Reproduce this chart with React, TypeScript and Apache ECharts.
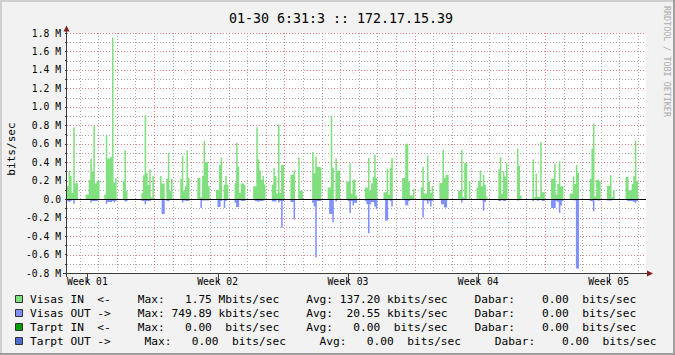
import React, { useEffect, useRef } from "react";
import * as echarts from "echarts";

// ---------- text ----------
const titleText = "01-30 6:31:3 :: 172.17.15.39";
const unitLabel = "bits/sec";
const watermark = "RRDTOOL / TOBI OETIKER";
const weekLabels = ["Week 01", "Week 02", "Week 03", "Week 04", "Week 05"];

// ---------- axes ----------
const spanDays = 31.1; // time span shown (days)
const samplesPerDay = 12; // 2-hour consolidated samples
const dayGridOffset = 0.675; // first day grid line (days from left edge)
const weekGridOffset = 4.685; // first week grid line
const weekLabelOffset = 1.09; // first week label position
const yMin = -0.8;
const yMax = 1.8;
const yStep = 0.2;

// ---------- data (Mbit/s), bursts of 2-hour samples ----------
const burstStart = [
  0, 12, 24, 36, 48, 60, 73, 84, 96, 108, 120, 132, 144, 158, 168, 180,
  192, 204, 216, 228, 240, 252, 264, 278, 290, 300, 312, 324, 337, 348, 360,
];
const inBursts = [
  [0.14, 0.31, 0.25, 0.07, 0.78, 0.17, 0.18],
  [0.05, 0.05, 0.21, 0.44, 0.3, 0.8, 0.17, 0.2, 0.2],
  [0.05, 0.7, 0.44, 0.44, 0.46, 1.75, 0.18, 0.23],
  [0.2, 0.53, 0.09],
  [0.07, 0.26, 0.91, 0.28, 0.15, 0.32, 0.02, 0.25],
  [0.25, 0.17, 0.17, 0, 0.22, 0.5, 0.085, 0.22],
  [0.22, 0.47, 0.085, 0.14, 0.53, 0.23],
  [0.23, 0.23, 0.02, 0.25, 0.63, 0.4, 0.4, 0.14],
  [0.1, 0.1, 0.37, 0.45, 0, 0.155, 0.25, 0.155],
  [0.175, 0.61, 0.355, 0.07, 0.17, 0.17, 0.15],
  [0.14, 0.14, 0.78, 0.43, 0.31, 0.21, 0.25, 0.16],
  [0.155, 0.34, 0.25, 0.06, 0.81, 0.07, 0.37, 0.37],
  [0.265, 0.265, 0.31, 0, 0, 0.45, 0.09, 0.09],
  [0.51, 0.28, 0.46, 0.35, 0.345, 0.345],
  [0.125, 0.125, 0.9, 0.34, 0, 0.44, 0.31, 0.31],
  [0.19, 0.19, 0.39, 0.06, 0.21, 0.21, 0.04],
  [0.125, 0.125, 0.445, 0.09, 0.17, 0.24, 0.48, 0.23],
  [0.075, 0.075, 0.33, 0.05, 0.34, 0.445],
  [0.23, 0.23, 0.6, 0.6, 0.19, 0.04, 0.04, 0.11],
  [0.13, 0.35, 0.06, 0.06, 0.47, 0.19, 0.07, 0.14],
  [0.175, 0.175, 0.535, 0.23, 0.265, 0.265],
  [0.09, 0.09, 0.535, 0.02, 0.39, 0.4, 0, 0.19],
  [0.125, 0.2, 0.31, 0.14, 0.265, 0.157, 0.03],
  [0.32, 0.455, 0.06, 0.3, 0.245, 0.39],
  [0.545, 0.36, 0.04],
  [0.43, 0.02, 0.275, 0.025, 0.025, 0.62, 0.075, 0.075],
  [0.22, 0.22, 0.385, 0.05, 0.165, 0.41, 0.14, 0.14],
  [0.06, 0.06, 0.245, 0.165, 0.37, 0.29],
  [0.22, 0.55, 0.82, 0.03, 0.21, 0.21, 0.195],
  [0.145, 0.145, 0.26, 0.02, 0.1],
  [0.24, 0.24, 0.095, 0.1, 0.165, 0.25, 0.63, 0.2],
];
const outBursts = [
  [0.02, 0.03, 0.02, 0.01, 0.05, 0.01, 0.01],
  [0.01, 0.01, 0.01, 0.035, 0.02, 0.02, 0.02, 0.015, 0.01],
  [0.01, 0.05, 0.03, 0.03, 0.035, 0.02, 0.035, 0.02],
  [0.01, 0.025, 0.02],
  [0.02, 0.02, 0.055, 0.02, 0.02, 0.025, 0, 0.01],
  [0, 0.16, 0.16, 0, 0.02, 0.025, 0.01, 0.01],
  [0.01, 0.035, 0.015, 0.02, 0.02, 0.02],
  [0.01, 0.01, 0.097, 0.015, 0.015, 0.015, 0.015, 0.01],
  [0.01, 0.086, 0.086, 0.02, 0, 0.097, 0.02, 0.01],
  [0.04, 0.085, 0.085, 0.01, 0.02, 0.02, 0.02],
  [0.01, 0.02, 0.025, 0.03, 0.02, 0.02, 0.015, 0.01],
  [0.025, 0.025, 0.025, 0.01, 0.035, 0.02, 0.31, 0.02],
  [0.03, 0.03, 0.22, 0, 0, 0.01, 0.01, 0.01],
  [0.04, 0.08, 0.63, 0.02, 0.02, 0.02],
  [0.01, 0.16, 0.16, 0.25, 0, 0.025, 0.01, 0.01],
  [0.01, 0.02, 0.15, 0.02, 0.07, 0.04, 0.04],
  [0.02, 0.055, 0.37, 0.055, 0.03, 0.03, 0.08, 0.11],
  [0.01, 0.23, 0.23, 0.01, 0.02, 0.08],
  [0.01, 0.015, 0.065, 0.065, 0.02, 0.01, 0.01, 0.01],
  [0.01, 0.2, 0.015, 0.015, 0.05, 0.02, 0.08, 0.02],
  [0.01, 0.055, 0.055, 0.09, 0.09, 0.01],
  [0.01, 0.01, 0.035, 0.01, 0.01, 0.01, 0, 0.01],
  [0.01, 0.01, 0.01, 0.015, 0.125, 0.03, 0.01],
  [0.02, 0.02, 0.01, 0.02, 0.02, 0.01],
  [0.015, 0.01, 0.005],
  [0.02, 0.005, 0.01, 0.02, 0.01, 0.01, 0.02, 0.02],
  [0.095, 0.095, 0.095, 0.02, 0.03, 0.146, 0.07, 0.02],
  [0.01, 0.01, 0.015, 0.01, 0.75, 0.75],
  [0.02, 0.025, 0.13, 0.01, 0.015, 0.015, 0.015],
  [0.015, 0.015, 0.015, 0.01, 0.005],
  [0.01, 0.02, 0.02, 0.02, 0.025, 0.03, 0.04, 0.02],
];

// ---------- legend ----------
const legendNames = ["Visas IN  <-", "Visas OUT ->", "Tarpt IN  <-", "Tarpt OUT ->"];
const legendColors = ["#80e080", "#8090ff", "#00a000", "#4d6ccc"];
const maxValues = ["1.75", "749.89", "0.00", "0.00"];
const maxPrefix = ["M", "k", " ", " "];
const avgValues = ["137.20", "20.55", "0.00", "0.00"];
const avgPrefix = ["k", "k", " ", " "];
const curValues = ["0.00", "0.00", "0.00", "0.00"];
const legendGap = [4, 4, 4, 5];

const inColor = legendColors[0];
const outColor = legendColors[1];
const MONO = '"DejaVu Sans Mono", monospace';
const minorGrid = "rgb(168,168,168)";
const majorGrid = "rgb(230,128,128)";

function pad(s: string, n: number) {
  return s.length >= n ? s : " ".repeat(n - s.length) + s;
}

function buildSeries(bursts: number[][], sign: number) {
  const n = Math.round(spanDays * samplesPerDay);
  const vals = new Array(n).fill(0);
  bursts.forEach((b, i) => {
    b.forEach((v, j) => {
      const k = burstStart[i] + j;
      if (k < n) vals[k] = v;
    });
  });
  const pts: number[][] = vals.map((v, k) => [k / samplesPerDay, sign * v]);
  pts.push([spanDays, sign * vals[n - 1]]);
  return pts;
}

function legendRow(i: number) {
  const g = " ".repeat(legendGap[i]);
  const s =
    legendNames[i] +
    g + "Max:" + pad(maxValues[i], 7) + " " + maxPrefix[i] + "bits/sec" +
    g + "Avg:" + pad(avgValues[i], 7) + " " + avgPrefix[i] + "bits/sec" +
    g + "Dabar:" + pad(curValues[i], 8) + "  bits/sec";
  return s.replace(/ /g, "\u00A0");
}

export default function App() {
  const ref = useRef<HTMLDivElement>(null);

  useEffect(() => {
    if (!ref.current) return;
    const chart = echarts.init(ref.current, null, { renderer: "svg" });

    const option: any = {
      animation: false,
      backgroundColor: "#f2f2f2",
      grid: { left: 67, top: 33, width: 579, height: 240, show: false },
      xAxis: {
        type: "value",
        min: 0,
        max: spanDays,
        axisLine: { show: false },
        axisTick: { show: false },
        axisLabel: { show: false },
        splitLine: { show: false },
      },
      yAxis: {
        type: "value",
        min: yMin,
        max: yMax,
        interval: yStep,
        z: 1,
        axisLine: { show: false },
        axisTick: { show: true, length: 2, lineStyle: { color: "#333" } },
        minorTick: { show: true, splitNumber: 2, length: 2, lineStyle: { color: "#333" } },
        axisLabel: {
          fontFamily: MONO,
          fontSize: 9.7,
          color: "#000",
          margin: 6,
          formatter: (v: number) => (Math.abs(v) < 1e-9 ? "0.0" : v.toFixed(1) + " M"),
        },
        splitLine: { show: false },
        minorSplitLine: { show: false },
      },
      series: [
        {
          name: "Visas IN",
          type: "line",
          step: "end",
          data: buildSeries(inBursts, 1),
          symbol: "none",
          showSymbol: false,
          lineStyle: { width: 0 },
          areaStyle: { color: inColor, opacity: 1 },
          silent: true,
          z: 3,
        },
        {
          name: "Visas OUT",
          type: "line",
          step: "end",
          data: buildSeries(outBursts, -1),
          symbol: "none",
          showSymbol: false,
          lineStyle: { width: 0 },
          areaStyle: { color: outColor, opacity: 1 },
          silent: true,
          z: 3,
          markLine: {
            silent: true,
            symbol: "none",
            label: { show: false },
            animation: false,
            lineStyle: { color: "#000", type: "solid", width: 1 },
            data: [{ yAxis: 0 }],
          },
        },
      ],
    };
    chart.setOption(option);

    const px = (d: number) => chart.convertToPixel({ xAxisIndex: 0 }, d) as number;
    const py = (v: number) => chart.convertToPixel({ yAxisIndex: 0 }, v) as number;
    const yTop = Math.round(py(yMax));
    const yBot = Math.round(py(yMin));
    const xLeft = Math.round(px(0));
    const xRight = Math.round(px(spanDays));

    const graphics: any[] = [];
    // plot canvas (below grid lines and series)
    graphics.push({
      type: "rect", shape: { x: xLeft, y: yTop, width: xRight - xLeft, height: yBot - yTop },
      style: { fill: "#ffffff" }, z: -10, silent: true,
    });
    // horizontal grid lines: 0.1 M (minor) and 0.2 M (major), via the y scale
    const nSteps = Math.round((yMax - yMin) / (yStep / 2));
    for (let s = 0; s <= nSteps; s++) {
      const v = yMin + (s * yStep) / 2;
      const y = Math.round(py(v)) + 0.5;
      graphics.push({
        type: "line", shape: { x1: xLeft, y1: y, x2: xRight, y2: y }, silent: true, z: s % 2 === 0 ? 1 : 0,
        style: { stroke: s % 2 === 0 ? majorGrid : minorGrid, lineWidth: 1, lineDash: [1, 2] },
      });
    }
    // vertical grid lines: days (minor) and weeks (major)
    for (let d = dayGridOffset; d < spanDays; d += 1) {
      const r = (((d - weekGridOffset) % 7) + 7) % 7;
      const isWeek = r < 0.05 || r > 6.95;
      const x = Math.round(px(d)) + 0.5;
      graphics.push({
        type: "line", shape: { x1: x, y1: yTop, x2: x, y2: yBot }, silent: true, z: isWeek ? 1 : 0,
        style: { stroke: isWeek ? majorGrid : minorGrid, lineWidth: 1, lineDash: [1, 2] },
      });
    }
    // frame shading
    graphics.push({ type: "rect", shape: { x: 0, y: 0, width: 675, height: 2 }, style: { fill: "#cfcfcf" }, z: 50 });
    graphics.push({ type: "rect", shape: { x: 0, y: 0, width: 2, height: 355 }, style: { fill: "#cfcfcf" }, z: 50 });
    graphics.push({ type: "rect", shape: { x: 0, y: 353, width: 675, height: 2 }, style: { fill: "#9e9e9e" }, z: 50 });
    graphics.push({ type: "rect", shape: { x: 673, y: 0, width: 2, height: 355 }, style: { fill: "#9e9e9e" }, z: 50 });
    // title
    graphics.push({
      type: "text", x: 341, y: 18, z: 50,
      style: { text: titleText, font: `13.3px ${MONO}`, fill: "#000", align: "center", verticalAlign: "middle" },
    });
    // watermark
    graphics.push({
      type: "text", x: 667, y: 6, rotation: -Math.PI / 2, z: 50,
      style: { text: watermark, font: `8.4px ${MONO}`, fill: "#ababab", align: "left", verticalAlign: "middle" },
    });
    // unit
    graphics.push({
      type: "text", x: 11, y: 149, rotation: Math.PI / 2, z: 50,
      style: { text: unitLabel, font: `11.1px ${MONO}`, fill: "#000", align: "center", verticalAlign: "middle" },
    });
    // axes
    graphics.push({ type: "line", shape: { x1: 66.5, y1: 277, x2: 66.5, y2: 30 }, style: { stroke: "#3a3a3a", lineWidth: 1 }, z: 60 });
    graphics.push({ type: "polygon", shape: { points: [[63.5, 31.5], [69.5, 31.5], [66.5, 25.5]] }, style: { fill: "#801f1f" }, z: 61 });
    graphics.push({ type: "line", shape: { x1: 63, y1: 273.5, x2: 648, y2: 273.5 }, style: { stroke: "#3a3a3a", lineWidth: 1 }, z: 60 });
    graphics.push({ type: "polygon", shape: { points: [[647, 270.5], [647, 276.5], [653, 273.5]] }, style: { fill: "#801f1f" }, z: 61 });
    // week labels
    weekLabels.forEach((t, i) => {
      const x = px(weekLabelOffset + 7 * i);
      graphics.push({ type: "line", shape: { x1: Math.round(x) + 0.5, y1: 274, x2: Math.round(x) + 0.5, y2: 283 }, style: { stroke: "#444", lineWidth: 1 }, z: 55 });
      graphics.push({
        type: "text", x, y: 281, z: 56,
        style: { text: t, font: `9.7px ${MONO}`, fill: "#000", align: "center", verticalAlign: "middle" },
      });
    });
    // legend
    legendNames.forEach((_, i) => {
      const y = 299 + i * 14.1;
      graphics.push({
        type: "rect", shape: { x: 15.5, y: Math.round(y) - 3.5, width: 7, height: 7 },
        style: { fill: legendColors[i], stroke: "#333", lineWidth: 1 }, z: 50,
      });
      graphics.push({
        type: "text", x: 30, y, z: 50,
        style: { text: legendRow(i), font: `11.2px ${MONO}`, fill: "#000", align: "left", verticalAlign: "middle" },
      });
    });
    chart.setOption({ graphic: graphics });

    return () => chart.dispose();
  }, []);

  return <div ref={ref} style={{ position: "fixed", left: 0, top: 0, width: 675, height: 355 }} />;
}
